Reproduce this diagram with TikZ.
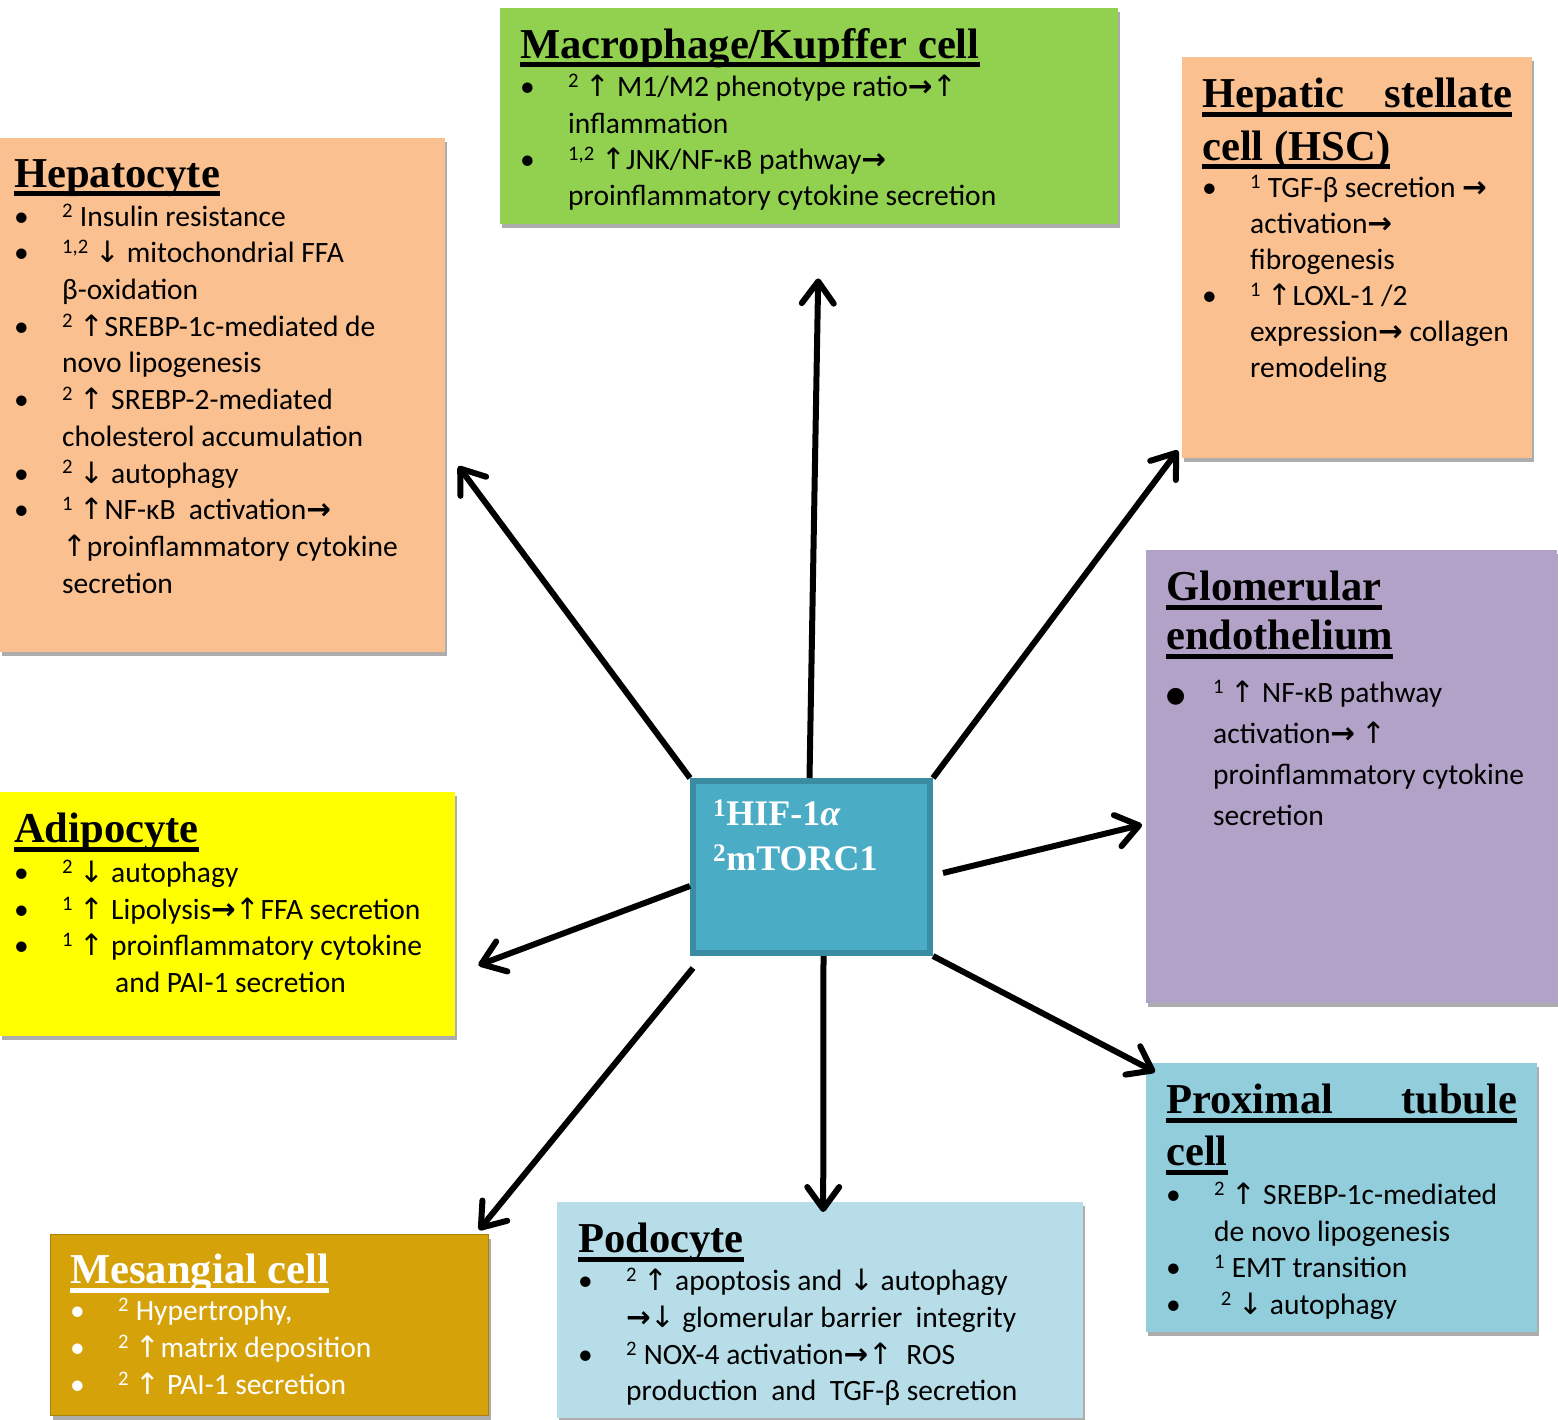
\documentclass[tikz,border=0pt]{standalone}
\usepackage{fontspec}
\setmainfont{Carlito}
\newfontfamily\titlefont{Liberation Serif}
\newfontfamily\arrowfont{DejaVu Sans}
\usetikzlibrary{arrows.meta,positioning,shadows}

\definecolor{peach}{HTML}{FAC090}
\definecolor{leafgreen}{HTML}{92D050}
\definecolor{lilac}{HTML}{B2A2C7}
\definecolor{lemon}{HTML}{FFFF00}
\definecolor{hubfill}{HTML}{4BACC6}
\definecolor{hubline}{HTML}{3A8CA3}
\definecolor{gold}{HTML}{D6A20A}
\definecolor{paleaqua}{HTML}{B7DEE8}
\definecolor{aqua}{HTML}{92CDDC}

\tikzstyle{cell} = [rectangle, inner sep=0pt, anchor=north west,
  drop shadow={shadow xshift=2pt, shadow yshift=-4pt, fill=black!32, opacity=1}]
\tikzstyle{celltext} = [anchor=north west, inner sep=0pt, align=left,
  font=\fontsize{29.5}{36.7}\selectfont]
\tikzstyle{link} = [line width=6pt, -{Straight Barb[length=22pt,width=32pt,round]}]

\newcommand{\uln}[1]{\setbox0=\hbox{#1}\rlap{\rule[-9pt]{\wd0}{5pt}}\box0}
\newcommand{\ttl}[1]{{\titlefont\bfseries\fontsize{42.6}{49}\selectfont\uln{#1}}}
\newcommand{\upar}{{\arrowfont ↑}}
\newcommand{\dnar}{{\arrowfont ↓}}
\newcommand{\rtar}{{\arrowfont\bfseries →}}
\newcommand{\bitem}{\makebox[48pt][l]{•}}
\newcommand{\citem}{\hspace*{48pt}}

\begin{document}
\begin{tikzpicture}[x=1pt, y=-1pt]
  \useasboundingbox (0,0) rectangle (1558,1419);

  % cell boxes
  \node[cell, fill=peach, minimum width=445pt, minimum height=514pt] (hep) at (0,138) {};
  \node[cell, fill=leafgreen, minimum width=618pt, minimum height=216pt] (mac) at (500,8) {};
  \node[cell, fill=peach, minimum width=350pt, minimum height=401pt] (hsc) at (1182,57) {};
  \node[cell, fill=lilac, minimum width=411pt, minimum height=453pt] (glo) at (1146,550) {};
  \node[cell, fill=lemon, minimum width=455pt, minimum height=244pt] (adi) at (0,792) {};
  \node[cell, fill=gold, draw=gold!80!black, line width=1pt, minimum width=438pt, minimum height=181pt] (mes) at (50,1234) {};
  \node[cell, fill=paleaqua, minimum width=526pt, minimum height=216pt] (pod) at (557,1202) {};
  \node[cell, fill=aqua, minimum width=391pt, minimum height=269pt] (pro) at (1146,1063) {};

  % centre
  \node[rectangle, anchor=north west, fill=hubfill, draw=hubline, line width=6pt,
        minimum width=237pt, minimum height=172pt, inner sep=0pt] (hub) at (690,778) {};
  \node[anchor=north west, inner sep=0pt, align=left, text=white,
        font=\titlefont\bfseries\fontsize{36}{45}\selectfont] (hub-text)
        at ([shift={(23pt,-22pt)}]hub.north west)
        {\textsuperscript{1}HIF-1\textit{α}\\ \textsuperscript{2}mTORC1};

  % cell texts
  \node[celltext] (hep-text) at ([shift={(14pt,-21pt)}]hep.north west) {%
    \ttl{Hepatocyte}\\[2.3pt]
    \bitem\textsuperscript{2} Insulin resistance\\
    \bitem\textsuperscript{1,2} \dnar{} mitochondrial FFA\\
    \citem β-oxidation\\
    \bitem\textsuperscript{2} \upar SREBP-1c-mediated de\\
    \citem novo lipogenesis\\
    \bitem\textsuperscript{2} \upar{} SREBP-2-mediated\\
    \citem cholesterol accumulation\\
    \bitem\textsuperscript{2} \dnar{} autophagy\\
    \bitem\textsuperscript{1} \upar NF-κB\ \ activation\rtar\\
    \citem\upar proinflammatory cytokine\\
    \citem secretion};

  \node[celltext] (mac-text) at ([shift={(20pt,-20pt)}]mac.north west) {%
    \ttl{Macrophage/Kupffer cell}\\[2pt]
    \bitem\textsuperscript{2} \upar{} M1/M2 phenotype ratio\rtar\upar\\[-0.5pt]
    \citem inflammation\\
    \bitem\textsuperscript{1,2} \upar JNK/NF-κB pathway\rtar\\[-0.5pt]
    \citem proinflammatory cytokine secretion};

  \node[celltext, font=\fontsize{29.5}{36}\selectfont] (hsc-text) at ([shift={(20pt,-21pt)}]hsc.north west) {%
    \ttl{\makebox[310pt][s]{Hepatic\hfill stellate}}\\[13pt]
    \ttl{cell (HSC)}\\[1.5pt]
    \bitem\textsuperscript{1} TGF-β secretion \rtar\\
    \citem activation\rtar\\
    \citem fibrogenesis\\
    \bitem\textsuperscript{1} \upar LOXL-1 /2\\
    \citem expression\rtar{} collagen\\
    \citem remodeling};

  \node[celltext, font=\fontsize{29.5}{41}\selectfont] (glo-text) at ([shift={(20pt,-21pt)}]glo.north west) {%
    \ttl{Glomerular}\\[8pt]
    \ttl{endothelium}\\[12pt]
    \makebox[47pt][l]{{\arrowfont\fontsize{22}{22}\selectfont ●}}\textsuperscript{1} \upar{} NF-κB pathway\\
    \hspace*{47pt}activation\rtar{} \upar\\
    \hspace*{47pt}proinflammatory cytokine\\
    \hspace*{47pt}secretion};

  \node[celltext] (adi-text) at ([shift={(14pt,-21pt)}]adi.north west) {%
    \ttl{Adipocyte}\\[3pt]
    \bitem\textsuperscript{2} \dnar{} autophagy\\
    \bitem\textsuperscript{1} \upar{} Lipolysis\rtar\upar FFA secretion\\
    \bitem\textsuperscript{1} \upar{} proinflammatory cytokine\\
    \hspace*{101pt}and PAI-1 secretion};

  \node[celltext, text=white] (mes-text) at ([shift={(20pt,-20pt)}]mes.north west) {%
    \ttl{Mesangial cell}\\[0.3pt]
    \bitem\textsuperscript{2} Hypertrophy,\\
    \bitem\textsuperscript{2} \upar matrix deposition\\
    \bitem\textsuperscript{2} \upar{} PAI-1 secretion};

  \node[celltext] (pod-text) at ([shift={(21pt,-21pt)}]pod.north west) {%
    \ttl{Podocyte}\\[1.3pt]
    \bitem\textsuperscript{2} \upar{} apoptosis and \dnar{} autophagy\\
    \citem\rtar\dnar{} glomerular barrier\ \ integrity\\
    \bitem\textsuperscript{2} NOX-4 activation\rtar\upar\ \ ROS\\
    \citem production\ \ and\ \ TGF-β secretion};

  \node[celltext] (pro-text) at ([shift={(20pt,-21pt)}]pro.north west) {%
    \ttl{\makebox[351pt][s]{Proximal\hfill tubule}}\\[12.3pt]
    \ttl{cell}\\[2pt]
    \bitem\textsuperscript{2} \upar{} SREBP-1c-mediated\\
    \citem de novo lipogenesis\\
    \bitem\textsuperscript{1} EMT transition\\
    \bitem\ \textsuperscript{2} \dnar{} autophagy};

  % arrows from the centre
  \draw[link] ([xshift=-2pt]hub.north) -- ([shift={(9pt,-54pt)}]mac.south);
  \draw[link] (hub.north west) -- ([shift={(13pt,-71pt)}]hep.east);
  \draw[link] (hub.north east) -- ([shift={(-4pt,8pt)}]hsc.south west);
  \draw[link] ([shift={(10pt,-6pt)}]hub.east) -- ([shift={(-4pt,-48pt)}]glo.west);
  \draw[link] ([yshift=-19pt]hub.west) -- ([shift={(23pt,-51pt)}]adi.east);
  \draw[link] ([shift={(3pt,-12pt)}]hub.south west) -- ([shift={(-10pt,4pt)}]mes.north east);
  \draw[link] ([xshift=12pt]hub.south) -- ([shift={(3pt,-10pt)}]pod.north);
  \draw[link] (hub.south east) -- ([shift={(9pt,-9pt)}]pro.north west);
\end{tikzpicture}
\end{document}
